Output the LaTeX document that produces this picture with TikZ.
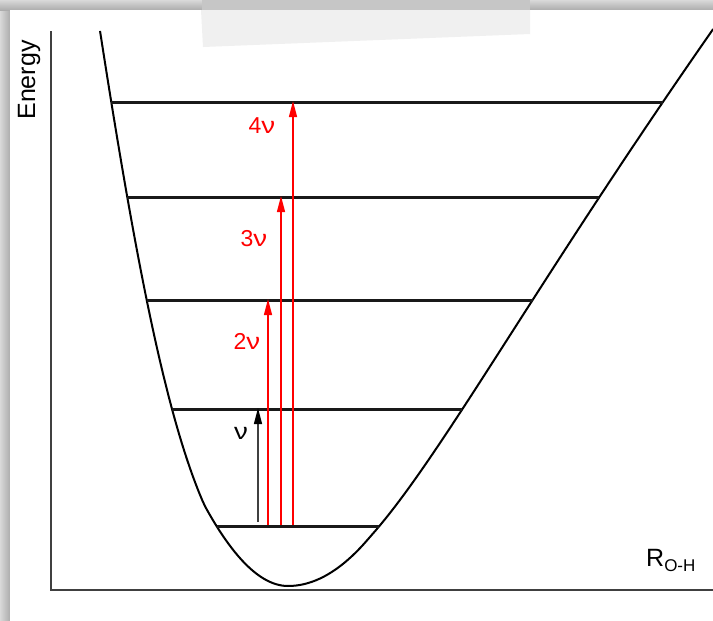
\documentclass[tikz,border=0pt]{standalone}
\usepackage{fontspec}
\setmainfont{Liberation Sans}
\usetikzlibrary{arrows.meta}
\newcommand{\nuwide}{\scalebox{1.2}[1]{ν}}
\begin{document}
\begin{tikzpicture}[x=1pt,y=-1pt,
  declare function={
    rl(\s)=8.8+0.5*min(\s,9)/9-0.1534*max(\s-9,0)+0.00431*max(\s-9,0)^2;
    rr(\s)=11.7+0.1284*max(\s-7,0)+0.01518*max(\s-7,0)^2;
    xl(\h)=288-sqrt(\h)*rl(sqrt(\h));
    xr(\h)=288+sqrt(\h)*rr(sqrt(\h));
  },
  levelline/.style={line width=3pt, black!90},
  axisline/.style={line width=1.6pt, black!75},
  curveline/.style={line width=2pt, black, line join=round},
  redarrow/.style={red, line width=1.3pt, -{Triangle[length=16pt,width=8pt]}},
  blackarrow/.style={black!75, line width=1.2pt, -{Triangle[length=16pt,width=8pt,color=black]}},
  redlabel/.style={text=red, font=\fontsize{23}{26}\selectfont, inner sep=0pt},
  blacklabel/.style={text=black, font=\fontsize{23}{26}\selectfont, inner sep=0pt}]
\useasboundingbox (0,0) rectangle (713,621);
% shadow frame
\fill[gray!55] (0,0) rectangle (713,621);
\shade[left color=gray!30, right color=gray!65] (0,0) rectangle (10,621);
\shade[top color=gray!30, bottom color=gray!65] (0,0) rectangle (713,10);
\fill[white] (10,10) rectangle (713,621);
% tape
\fill[gray!12] (201,10) -- (530,10) -- (530,34) -- (203,47) -- cycle;
\fill[gray!45] (202,0) rectangle (530,10);
% axes
\coordinate (ytop) at (51,31);
\coordinate (origin) at (51,590);
\coordinate (xend) at (713,590);
\draw[axisline] (ytop) -- (origin) -- (xend);
\node[rotate=90, font=\fontsize{25}{28}\selectfont, inner sep=0pt] (energy) at (29,80) {Energy};
\node[font=\fontsize{25}{28}\selectfont, inner sep=0pt, anchor=base west] (roh) at (646,566) {R\raisebox{-0.2em}{\fontsize{17}{17}\selectfont O-H}};
% potential curve
\draw[curveline] plot[domain=23.56:0, samples=70, variable=\s] ({288-\s*rl(\s)},{586-\s*\s})
  -- plot[domain=0:23.6, samples=70, variable=\s] ({288+\s*rr(\s)},{586-\s*\s});
% levels
\coordinate (l0a) at ({xl(60)},526);  \coordinate (l0b) at ({xr(60)},526);
\coordinate (l1a) at ({xl(177)},409); \coordinate (l1b) at ({xr(177)},409);
\coordinate (l2a) at ({xl(286)},300); \coordinate (l2b) at ({xr(286)},300);
\coordinate (l3a) at ({xl(389)},197); \coordinate (l3b) at ({xr(389)},197);
\coordinate (l4a) at ({xl(484)},102); \coordinate (l4b) at ({xr(484)},102);
\draw[levelline] (l0a) -- (l0b);
\draw[levelline] (l1a) -- (l1b);
\draw[levelline] (l2a) -- (l2b);
\draw[levelline] (l3a) -- (l3b);
\draw[levelline] (l4a) -- (l4b);
% transitions
\coordinate (s1) at (258,522); \coordinate (e1) at (258,408);
\coordinate (s2) at (268,525); \coordinate (e2) at (268,299);
\coordinate (s3) at (281,525); \coordinate (e3) at (281,196);
\coordinate (s4) at (293,525); \coordinate (e4) at (293,101);
\draw[blackarrow] (s1) -- (e1);
\draw[redarrow] (s2) -- (e2);
\draw[redarrow] (s3) -- (e3);
\draw[redarrow] (s4) -- (e4);
\node[blacklabel] (n1) at (241,433) {\nuwide};
\node[redlabel] (n2) at (247,341) {2\nuwide};
\node[redlabel] (n3) at (254,239) {3\nuwide};
\node[redlabel] (n4) at (262,126) {4\nuwide};
\end{tikzpicture}
\end{document}
